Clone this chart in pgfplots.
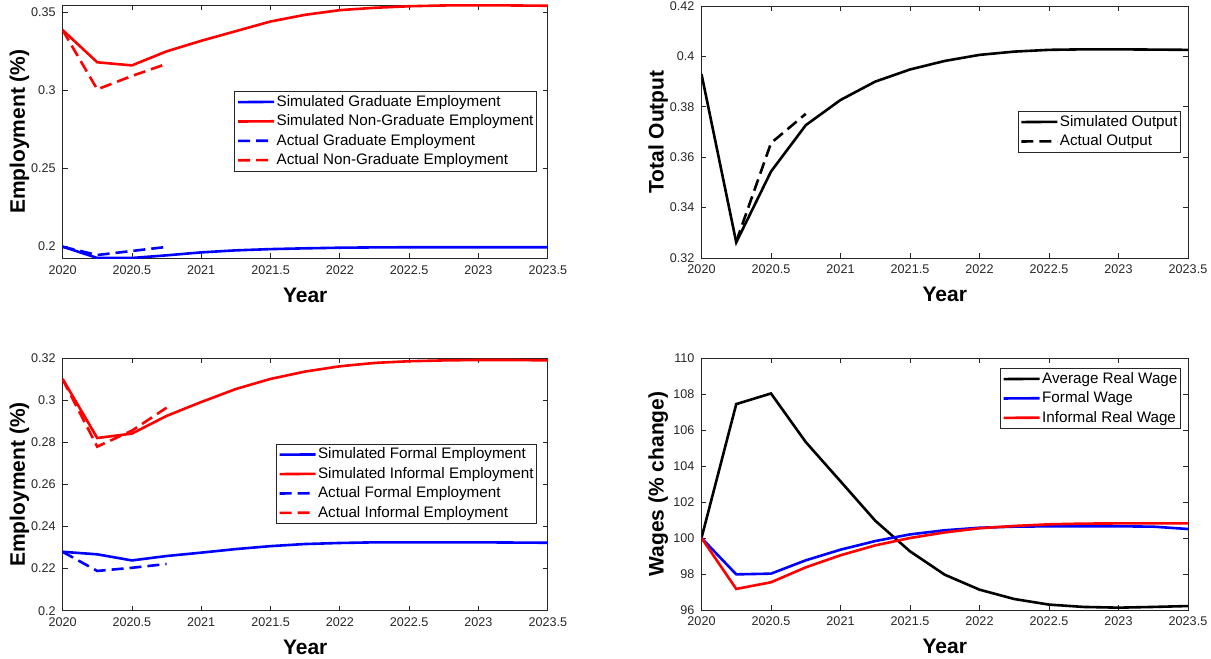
\documentclass[border=0pt]{standalone}
\usepackage{fontspec}
\setmainfont{Liberation Sans}
\usepackage{pgfplots}
\pgfplotsset{compat=1.18}
\definecolor{mgray}{RGB}{38,38,38}
\definecolor{mblue}{RGB}{0,0,255}
\definecolor{mred}{RGB}{255,0,0}
\newcommand\ticksize{\fontsize{6.3}{7}\selectfont}
\newcommand\labsize{\fontsize{10.5}{12}\selectfont}
\newcommand\legsize{\fontsize{7.6}{9}\selectfont}
\pgfplotsset{
  mstyle/.style={
    scale only axis,
    axis line style={mgray, line width=0.4pt},
    tick style={mgray, line width=0.4pt},
    major tick length=2.5pt,
    tick align=inside,
    tick label style={font=\ticksize, text=mgray},
    xmin=2020, xmax=2023.5,
    xtick={2020,2020.5,2021,2021.5,2022,2022.5,2023,2023.5},
    scaled ticks=false,
    /pgf/number format/1000 sep={},
    /pgf/number format/assume math mode=true,
    xlabel={Year},
    xlabel style={font=\labsize\bfseries, at={(axis description cs:0.5,0)}, anchor=north, yshift=-14.5pt, inner sep=0pt},
    ylabel style={font=\labsize\bfseries, at={(axis description cs:-0.068,0.5)}, anchor=south, inner sep=0pt},
    legend cell align=left,
    legend image code/.code={\draw[#1, line width=1.3pt] (0pt,0pt) -- (18pt,0.12pt);},
    legend style={draw=mgray, line width=0.4pt, fill=white, font=\legsize, inner xsep=1pt, inner ysep=1pt,
      nodes={inner sep=0.6pt, text height=5.8pt, text depth=1.6pt},
      row sep=1.1pt},
  },
  sim/.style={line width=1.3pt},
  act/.style={line width=1.3pt, dash pattern=on 6pt off 3pt},
}
\begin{document}
\begin{tikzpicture}
\path[use as bounding box] (0,0) rectangle (605.5pt,329.5pt);
% ---------------- top left
\begin{axis}[mstyle, at={(31.3pt,200.35pt)}, anchor=south west,
  width=242.6pt, height=126.65pt,
  ymin=0.1921, ymax=0.3548, ytick={0.2,0.25,0.3,0.35},
  ylabel={Employment (\%)},
  legend style={at={(0.978,0.66)}, anchor=north east}]
\addplot[sim, mblue] coordinates {(2020,0.1996)(2020.25,0.1923)(2020.5,0.1923)(2020.75,0.1940)(2021,0.1959)(2021.25,0.1972)(2021.5,0.1980)(2021.75,0.1985)(2022,0.1989)(2022.25,0.1991)(2022.5,0.1992)(2022.75,0.1992)(2023,0.1992)(2023.25,0.1992)(2023.5,0.1992)};
\addplot[sim, mred] coordinates {(2020,0.3387)(2020.25,0.3180)(2020.5,0.3160)(2020.75,0.3250)(2021,0.3318)(2021.25,0.3380)(2021.5,0.3442)(2021.75,0.3485)(2022,0.3515)(2022.25,0.3530)(2022.5,0.3540)(2022.75,0.3545)(2023,0.3546)(2023.25,0.3545)(2023.5,0.3543)};
\addplot[act, mblue] coordinates {(2020,0.1995)(2020.25,0.1942)(2020.5,0.1968)(2020.75,0.1994)};
\addplot[act, mred] coordinates {(2020,0.3387)(2020.25,0.3006)(2020.5,0.3092)(2020.75,0.3170)};
\legend{Simulated Graduate Employment, Simulated Non-Graduate Employment, Actual Graduate Employment, Actual Non-Graduate Employment}
\end{axis}
% ---------------- top right
\begin{axis}[mstyle, at={(350.75pt,200.5pt)}, anchor=south west,
  width=243.25pt, height=126pt,
  ymin=0.32, ymax=0.42, ytick={0.32,0.34,0.36,0.38,0.4,0.42},
  ylabel={Total Output},
  legend style={at={(0.9856,0.583)}, anchor=north east}]
\addplot[sim, black] coordinates {(2020,0.3930)(2020.25,0.3262)(2020.5,0.3543)(2020.75,0.3727)(2021,0.3827)(2021.25,0.3900)(2021.5,0.3948)(2021.75,0.3982)(2022,0.4006)(2022.25,0.4019)(2022.5,0.4026)(2022.75,0.4028)(2023,0.4028)(2023.25,0.4027)(2023.5,0.4026)};
\addplot[act, black] coordinates {(2020.25,0.3265)(2020.5,0.3656)(2020.75,0.3772)};
\legend{Simulated Output, Actual Output}
\end{axis}
% ---------------- bottom left
\begin{axis}[mstyle, at={(31.3pt,24.15pt)}, anchor=south west,
  width=242.6pt, height=126.2pt,
  ymin=0.2, ymax=0.32, ytick={0.2,0.22,0.24,0.26,0.28,0.3,0.32},
  ylabel={Employment (\%)},
  legend style={at={(0.978,0.6617)}, anchor=north east}]
\addplot[sim, mblue] coordinates {(2020,0.2280)(2020.25,0.2268)(2020.5,0.2239)(2020.75,0.2260)(2021,0.2276)(2021.25,0.2293)(2021.5,0.2307)(2021.75,0.2317)(2022,0.2322)(2022.25,0.2325)(2022.5,0.2325)(2022.75,0.2325)(2023,0.2325)(2023.25,0.2324)(2023.5,0.2323)};
\addplot[sim, mred] coordinates {(2020,0.3102)(2020.25,0.2821)(2020.5,0.2842)(2020.75,0.2926)(2021,0.2992)(2021.25,0.3054)(2021.5,0.3102)(2021.75,0.3137)(2022,0.3162)(2022.25,0.3178)(2022.5,0.3186)(2022.75,0.3190)(2023,0.3192)(2023.25,0.3192)(2023.5,0.3190)};
\addplot[act, mblue] coordinates {(2020,0.2280)(2020.25,0.2189)(2020.5,0.2204)(2020.75,0.2222)};
\addplot[act, mred] coordinates {(2020,0.3100)(2020.25,0.2780)(2020.5,0.2856)(2020.75,0.2965)};
\legend{Simulated Formal Employment, Simulated Informal Employment, Actual Formal Employment, Actual Informal Employment}
\end{axis}
% ---------------- bottom right
\begin{axis}[mstyle, at={(350.75pt,24.5pt)}, anchor=south west,
  width=243.25pt, height=126pt,
  ymin=96, ymax=110, ytick={96,98,100,102,104,106,108,110},
  ylabel={Wages (\% change)},
  legend style={at={(0.9856,0.96)}, anchor=north east}]
\addplot[sim, black] coordinates {(2020,100)(2020.25,107.44)(2020.5,108.03)(2020.75,105.33)(2021,103.15)(2021.25,100.96)(2021.5,99.26)(2021.75,97.96)(2022,97.13)(2022.25,96.61)(2022.5,96.30)(2022.75,96.17)(2023,96.13)(2023.25,96.17)(2023.5,96.22)};
\addplot[sim, mblue] coordinates {(2020,100)(2020.25,97.98)(2020.5,98.02)(2020.75,98.76)(2021,99.35)(2021.25,99.83)(2021.5,100.20)(2021.75,100.43)(2022,100.57)(2022.25,100.63)(2022.5,100.65)(2022.75,100.65)(2023,100.65)(2023.25,100.63)(2023.5,100.50)};
\addplot[sim, mred] coordinates {(2020,100)(2020.25,97.17)(2020.5,97.54)(2020.75,98.37)(2021,99.04)(2021.25,99.59)(2021.5,100.00)(2021.75,100.31)(2022,100.54)(2022.25,100.67)(2022.5,100.76)(2022.75,100.80)(2023,100.81)(2023.25,100.81)(2023.5,100.81)};
\legend{Average Real Wage, Formal Wage, Informal Real Wage}
\end{axis}
\end{tikzpicture}
\end{document}
